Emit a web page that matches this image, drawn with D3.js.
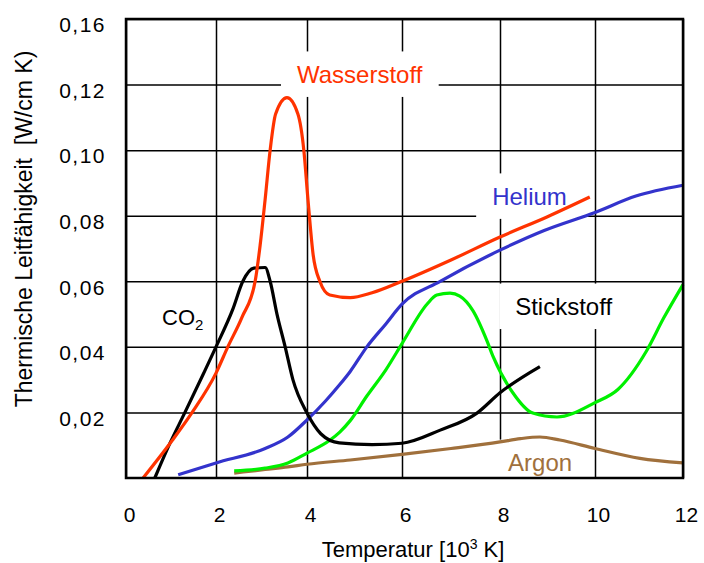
<!DOCTYPE html>
<html><head><meta charset="utf-8">
<script src="https://cdn.jsdelivr.net/npm/d3@7"></script>
<style>
body{margin:0;background:#fff;}
svg{display:block;font-family:"Liberation Sans",Arial,sans-serif;}
</style></head>
<body><svg id="c" width="704" height="563"></svg>
<script>
// ---- data (temperature in 10^3 K, conductivity in W/cm K) ----
const xTicks = [0, 2, 4, 6, 8, 10, 12];
const xTickLabels = ["0", "2", "4", "6", "8", "10", "12"];
const yTicks = [0.02, 0.04, 0.06, 0.08, 0.10, 0.12, 0.14];
const yTickLabels = ["0,02", "0,04", "0,06", "0,08", "0,10", "0,12", "0,16"];

const wasserstoffT = [0.38,1.03,1.47,2.0,2.26,2.57,2.86,2.97,3.08,3.19,3.31,3.56,3.80,3.93,4.02,4.13,4.27,4.48,4.91,5.37,6,7,8,9,9.89];
const wasserstoffV = [0,0.0115,0.02,0.032,0.04,0.049,0.06,0.071,0.085,0.1,0.111,0.116,0.111,0.1,0.085,0.068,0.06,0.0558,0.055,0.0565,0.06,0.0665,0.0735,0.0797,0.0857];

const co2T = [0.64,0.98,1.31,1.71,2.0,2.37,2.59,2.83,3.08,3.19,3.34,3.52,3.69,4.0,4.29,4.68,5.37,6,6.78,7.53,8,8.84];
const co2V = [0,0.0107,0.02,0.0315,0.04,0.0515,0.06,0.064,0.0642,0.06,0.05,0.04,0.03,0.0198,0.0135,0.0107,0.0102,0.0106,0.0146,0.0198,0.026,0.034];

const heliumT = [1.16,2,3.08,3.58,4,4.39,4.69,4.91,5.26,5.66,6,6.78,8,8.93,10,10.93,12];
const heliumV = [0.001,0.0046,0.009,0.0125,0.0177,0.0235,0.0285,0.0325,0.04,0.047,0.053,0.06,0.0695,0.0755,0.081,0.086,0.0893];

const stickstoffT = [2.40,3.08,3.58,4,4.48,4.69,4.91,5.26,5.66,6,6.51,6.71,6.98,7.18,7.45,7.73,7.86,8.27,8.69,9.2,10,10.52,11.16,11.57,12];
const stickstoffV = [0.0022,0.003,0.0046,0.0076,0.0115,0.014,0.0175,0.025,0.033,0.041,0.053,0.0558,0.0564,0.0555,0.051,0.042,0.037,0.026,0.0198,0.0186,0.023,0.027,0.0385,0.049,0.059];

const argonT = [2.40,3.08,3.58,4,4.91,6,7,8,8.43,8.84,9.26,10,11.02,12];
const argonV = [0.0015,0.0026,0.0034,0.0042,0.0055,0.0072,0.009,0.011,0.012,0.0125,0.0116,0.009,0.006,0.0046];

const series = [
  {name:"Argon", T:argonT, V:argonV, color:"#a0703c"},
  {name:"Stickstoff", T:stickstoffT, V:stickstoffV, color:"#00f000"},
  {name:"Helium", T:heliumT, V:heliumV, color:"#3333cc"},
  {name:"CO2", T:co2T, V:co2V, color:"#000000"},
  {name:"Wasserstoff", T:wasserstoffT, V:wasserstoffV, color:"#ff3300"}
];

// ---- layout ----
const L = 126, R = 683, Tp = 19, B = 478;
// the original grid is slightly uneven, so the x scale is piecewise linear
const x = d3.scaleLinear().domain(xTicks).range([L, 216, 307, 402, 500, 595, R]);
const y = d3.scaleLinear().domain([0, 0.14]).range([B, Tp]);
const svg = d3.select("#c");

// grid + tick labels via axes
const gx = svg.append("g").attr("transform", `translate(0,${B})`)
  .call(d3.axisBottom(x).tickValues(xTicks).tickSize(-(B - Tp)).tickPadding(29)
    .tickFormat((d, i) => xTickLabels[i]));
gx.select(".domain").remove();
gx.selectAll("line").attr("stroke", "#000").attr("stroke-width", 1.5);
gx.selectAll("text").attr("font-size", 21).attr("fill", "#000").attr("x", 3)
  .attr("font-family", "Liberation Sans, Arial, sans-serif");

const gy = svg.append("g").attr("transform", `translate(${L},0)`)
  .call(d3.axisLeft(y).tickValues(yTicks).tickSize(-(R - L)).tickPadding(20)
    .tickFormat((d, i) => yTickLabels[i]));
gy.select(".domain").remove();
gy.selectAll("line").attr("stroke", "#000").attr("stroke-width", 1.5);
gy.selectAll("text").attr("font-size", 21).attr("fill", "#000").attr("y", 6)
  .attr("letter-spacing", 1.5)
  .attr("font-family", "Liberation Sans, Arial, sans-serif");

// label boxes layer (drawn over grid)
const boxLayer = svg.append("g");
const curveLayer = svg.append("g");

const line = d3.line().x(d => x(d[0])).y(d => y(d[1])).curve(d3.curveMonotoneX);
series.forEach(s => {
  curveLayer.append("path")
    .datum(s.T.map((t, i) => [t, s.V[i]]))
    .attr("fill", "none").attr("stroke", s.color).attr("stroke-width", 3.2)
    .attr("stroke-linejoin", "round").attr("stroke-linecap", "butt")
    .attr("d", line);
});

// frame
svg.append("rect").attr("x", L).attr("y", Tp).attr("width", R - L).attr("height", B - Tp)
  .attr("fill", "none").attr("stroke", "#000").attr("stroke-width", 2.5);

// series labels
const labels = [
  {text:"Wasserstoff", t:3.78, v:0.1205, color:"#ff3300"},
  {text:"Helium", t:7.84, v:0.0833, color:"#3333cc"},
  {text:"Stickstoff", t:8.32, v:0.0497, color:"#000000"},
  {text:"Argon", t:8.17, v:0.0021, color:"#a0703c"}
];
labels.forEach(l => {
  const tx = svg.append("text").attr("x", x(l.t)).attr("y", y(l.v))
    .attr("font-size", 24).attr("fill", l.color).text(l.text);
  const bb = tx.node().getBBox();
  const top = bb.y - 9.5;
  const bottom = Math.min(bb.y + bb.height + 9, B);
  boxLayer.append("rect").attr("x", bb.x - 16).attr("y", top)
    .attr("width", bb.width + 32).attr("height", bottom - top).attr("fill", "#fff");
});
const co2 = svg.append("text").attr("x", x(0.8)).attr("y", y(0.0467))
  .attr("font-size", 22).attr("fill", "#000");
co2.append("tspan").text("CO");
co2.append("tspan").attr("font-size", 15).attr("dy", 5).text("2");

// axis titles
const xt = svg.append("text").attr("x", 413).attr("y", 557).attr("text-anchor", "middle")
  .attr("font-size", 22).attr("fill", "#000");
xt.append("tspan").text("Temperatur [10");
xt.append("tspan").attr("font-size", 14).attr("dy", -8).text("3");
xt.append("tspan").attr("dy", 8).text(" K]");

svg.append("text").attr("transform", "translate(32,229) rotate(-90)")
  .attr("text-anchor", "middle").attr("font-size", 23).attr("fill", "#000")
  .attr("xml:space", "preserve")
  .text("Thermische Leitfähigkeit  [W/cm K)");
</script>
</body></html>
